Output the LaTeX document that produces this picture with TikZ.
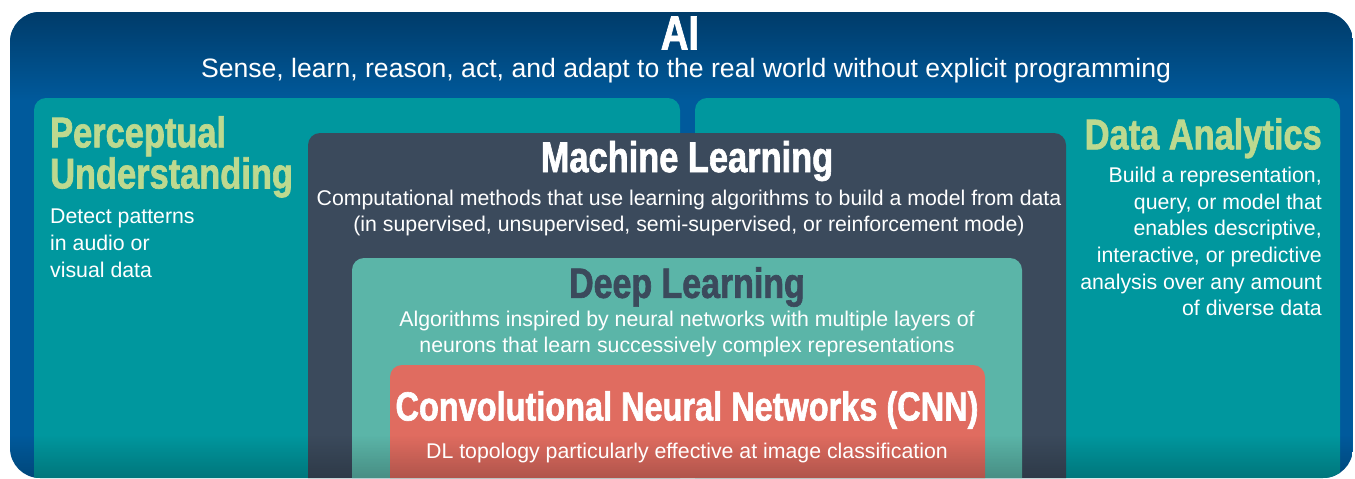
\documentclass[tikz,border=0pt]{standalone}
\usepackage{fontspec}
\setmainfont{Liberation Sans}
\newfontfamily\headfont[FakeStretch=0.8,FakeBold=1.5]{Liberation Sans}
\usetikzlibrary{fadings}
\definecolor{aiblue}{HTML}{005A9C}
\definecolor{aitop}{HTML}{003C6A}
\definecolor{panelteal}{HTML}{00979E}
\definecolor{mlslate}{HTML}{3B4A5C}
\definecolor{dlgreen}{HTML}{5BB5A8}
\definecolor{cnnred}{HTML}{E06C60}
\definecolor{headgreen}{HTML}{BDD98F}
\tikzset{
  panel/.style={rounded corners=12pt},
  head/.style={font=\headfont\bfseries\fontsize{43}{40}\selectfont, inner sep=0pt},
  desc/.style={font=\fontsize{21.3}{26.6}\selectfont, text=white, inner sep=0pt, align=center},
}
\begin{document}
\begin{tikzpicture}[x=1pt,y=-1pt]
  \useasboundingbox (0,0) rectangle (1355,479);
  \clip (0,0) rectangle (1355,479);
  \fill[white] (0,0) rectangle (1355,479);
  % outer AI frame
  \begin{scope}
    \clip[rounded corners=30pt] (10,12) rectangle (1353,478);
    \fill[aiblue] (10,12) rectangle (1353,478);
    \fill[aitop, path fading=south] (10,12) rectangle (1353,100);
    % nested panels
    \fill[panelteal, panel] (34,98) rectangle (680,520);
    \fill[panelteal, panel] (695,98) rectangle (1340,520);
    \fill[mlslate, panel] (308,133) rectangle (1066,520);
    \fill[dlgreen, panel] (352,258) rectangle (1022,520);
    \fill[cnnred, panel] (390,365) rectangle (985,520);
    % darker bottom edge
    \fill[black, fill opacity=0.22, path fading=north] (10,435) rectangle (1353,479);
  \end{scope}

  \node[head, text=white, font=\headfont\bfseries\fontsize{48}{50}\selectfont] (ai) at (680,33) {AI};
  \node[desc, font=\fontsize{26.6}{28}\selectfont] (aidesc) at (686,71) {Sense, learn, reason, act, and adapt to the real world without explicit programming};

  \node[head, text=headgreen, anchor=north west, align=left] (perc) at (50,116) {Perceptual\\Understanding};
  \node[desc, anchor=north west, align=left] (percdesc) at (50,209) {Detect patterns\\in audio or\\visual data};

  \node[head, text=headgreen, anchor=north east] (data) at (1322,118) {Data Analytics};
  \node[desc, anchor=north east, align=right] (datadesc) at (1322,167) {Build a representation,\\query, or model that\\enables descriptive,\\interactive, or predictive\\analysis over any amount\\of diverse data};

  \node[head, text=white] (ml) at (687,161) {Machine Learning};
  \node[desc] (mldesc) at (689,213) {Computational methods that use learning algorithms to build a model from data\\(in supervised, unsupervised, semi-supervised, or reinforcement mode)};

  \node[head, text=mlslate, font=\headfont\bfseries\fontsize{42.4}{40}\selectfont] (dl) at (687,287) {Deep Learning};
  \node[desc] (dldesc) at (687,334) {Algorithms inspired by neural networks with multiple layers of\\neurons that learn successively complex representations};

  \node[head, text=white, font=\headfont\bfseries\fontsize{40.6}{40}\selectfont] (cnn) at (687,410) {Convolutional Neural Networks (CNN)};
  \node[desc] (cnndesc) at (687,453) {DL topology particularly effective at image classification};
\end{tikzpicture}
\end{document}
